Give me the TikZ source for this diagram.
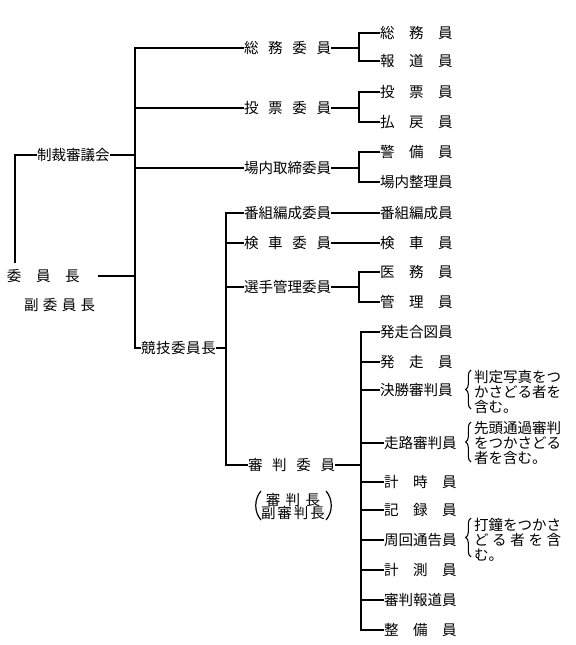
\documentclass[tikz,border=0pt]{standalone}
\usepackage{fontspec}
\setmainfont{Noto Sans CJK JP}
\usetikzlibrary{decorations.pathreplacing}
\newcommand{\spread}[2]{\makebox[#1][s]{#2}}
\begin{document}
\begin{tikzpicture}[x=0.75pt,y=-0.75pt,
  every node/.style={inner sep=0pt,outer sep=0pt,font=\fontsize{10.9pt}{11.3pt}\selectfont},
  lbl/.style={anchor=west},
  conn/.style={line width=1.5pt},
  note/.style={anchor=west,align=left,font=\fontsize{10.9pt}{11.25pt}\selectfont},
  bracestyle/.style={line width=0.8pt,decorate,decoration={brace,amplitude=4pt}},
  paren/.style={line width=0.9pt}]
\useasboundingbox (0,0) rectangle (575,645);
\fill[white] (0,0) rectangle (575,645);

% left column
\node[lbl] (seisai) at (37,155) {\spread{5em}{制\hfill 裁\hfill 審\hfill 議\hfill 会}};
\node[lbl] (iin) at (7,276) {\spread{5em}{委\hfill 員\hfill 長}};
\node[lbl] (fuku) at (24,305) {\spread{4.9em}{副\hfill 委\hfill 員\hfill 長}};
\coordinate (iinR) at (98,276);
\coordinate (lowL) at (15,263);
\coordinate (T1) at (135,0);
\coordinate (T2) at (226,0);
\coordinate (S) at (359,0);
\coordinate (T3) at (361,0);

% committees
\node[lbl] (soumu) at (244,48) {\spread{6em}{総\hfill 務\hfill 委\hfill 員}};
\node[lbl] (touhyou) at (244,108) {\spread{6em}{投\hfill 票\hfill 委\hfill 員}};
\node[lbl] (jounai) at (244,168) {\spread{6em}{場\hfill 内\hfill 取\hfill 締\hfill 委\hfill 員}};
\node[lbl] (bangumi) at (244,213) {\spread{6em}{番\hfill 組\hfill 編\hfill 成\hfill 委\hfill 員}};
\node[lbl] (kensha) at (244,243) {\spread{6em}{検\hfill 車\hfill 委\hfill 員}};
\node[lbl] (senshu) at (244,287) {\spread{6em}{選\hfill 手\hfill 管\hfill 理\hfill 委\hfill 員}};
\node[lbl] (kyougi) at (141,348) {\spread{5.15em}{競\hfill 技\hfill 委\hfill 員\hfill 長}};
\node[lbl] (shinpan) at (248,465) {\spread{6em}{審\hfill 判\hfill 委\hfill 員}};
\node (hanchou) at (293,500) {\spread{3.75em}{審\hfill 判\hfill 長}};
\node (fukuhanchou) at (293,512.5) {\spread{4.4em}{副\hfill 審\hfill 判\hfill 長}};

% members
\node[lbl] (m1) at (380,33) {\spread{5em}{総\hfill 務\hfill 員}};
\node[lbl] (m2) at (380,61) {\spread{5em}{報\hfill 道\hfill 員}};
\node[lbl] (m3) at (380,92) {\spread{5em}{投\hfill 票\hfill 員}};
\node[lbl] (m4) at (380,122) {\spread{5em}{払\hfill 戻\hfill 員}};
\node[lbl] (m5) at (380,152) {\spread{5em}{警\hfill 備\hfill 員}};
\node[lbl] (m6) at (380,182) {\spread{5em}{場\hfill 内\hfill 整\hfill 理\hfill 員}};
\node[lbl] (m7) at (380,213) {\spread{5em}{番\hfill 組\hfill 編\hfill 成\hfill 員}};
\node[lbl] (m8) at (380,243) {\spread{5em}{検\hfill 車\hfill 員}};
\node[lbl] (m9) at (380,272) {\spread{5em}{医\hfill 務\hfill 員}};
\node[lbl] (m10) at (380,302) {\spread{5em}{管\hfill 理\hfill 員}};

% referee members
\node[lbl] (r1) at (380,332) {\spread{5em}{発\hfill 走\hfill 合\hfill 図\hfill 員}};
\node[lbl] (r2) at (380,362) {\spread{5em}{発\hfill 走\hfill 員}};
\node[lbl] (r3) at (380,390) {\spread{5em}{決\hfill 勝\hfill 審\hfill 判\hfill 員}};
\node[lbl] (r4) at (384,443) {\spread{5em}{走\hfill 路\hfill 審\hfill 判\hfill 員}};
\node[lbl] (r5) at (384,482) {\spread{5em}{計\hfill 時\hfill 員}};
\node[lbl] (r6) at (384,510) {\spread{5em}{記\hfill 録\hfill 員}};
\node[lbl] (r7) at (384,540) {\spread{5em}{周\hfill 回\hfill 通\hfill 告\hfill 員}};
\node[lbl] (r8) at (384,570) {\spread{5em}{計\hfill 測\hfill 員}};
\node[lbl] (r9) at (384,600) {\spread{5em}{審\hfill 判\hfill 報\hfill 道\hfill 員}};
\node[lbl] (r10) at (384,630) {\spread{5em}{整\hfill 備\hfill 員}};

% notes
\node[note] (n1) at (474,392) {判定写真をつ\\かさどる者を\\含む。};
\node[note] (n2) at (474,443) {先頭通過審判\\をつかさどる\\者を含む。};
\node[note] (n3) at (474,540) {打鐘をつかさ\\\spread{6em}{ど\hfill る\hfill 者\hfill を\hfill 含}\\む。};
\coordinate (b1a) at (471,409); \coordinate (b1b) at (471,370);
\coordinate (b2a) at (471,462); \coordinate (b2b) at (471,422);
\coordinate (b3a) at (471,557); \coordinate (b3b) at (471,518);
\draw[bracestyle] (b1a) -- (b1b);
\draw[bracestyle] (b2a) -- (b2b);
\draw[bracestyle] (b3a) -- (b3b);

% parentheses
\coordinate (pl1) at (261,491); \coordinate (pl2) at (261,520);
\coordinate (pr1) at (326,491); \coordinate (pr2) at (326,520);
\draw[paren] (pl1) .. controls (254,499) and (254,512) .. (pl2);
\draw[paren] (pr1) .. controls (333,499) and (333,512) .. (pr2);

% connectors: left
\draw[conn] (seisai.west) -- (seisai.west -| lowL) -- (lowL);
\draw[conn] (seisai.east) -- (seisai.east -| T1);
\draw[conn] (iinR) -- (iinR -| T1);
% trunk 1
\draw[conn] (soumu.west) -- (soumu.west -| T1) -- (kyougi.west -| T1) -- (kyougi.west);
\draw[conn] (touhyou.west) -- (touhyou.west -| T1);
\draw[conn] (jounai.west) -- (jounai.west -| T1);
% trunk 2
\draw[conn] (bangumi.west) -- (bangumi.west -| T2) -- (shinpan.west -| T2) -- (shinpan.west);
\draw[conn] (kensha.west) -- (kensha.west -| T2);
\draw[conn] (senshu.west) -- (senshu.west -| T2);
\draw[conn] (kyougi.east) -- (kyougi.east -| T2);
% sub branches
\draw[conn] (soumu.east) -- (soumu.east -| S);
\draw[conn] (m1.west) -- (m1.west -| S) -- (m2.west -| S) -- (m2.west);
\draw[conn] (touhyou.east) -- (touhyou.east -| S);
\draw[conn] (m3.west) -- (m3.west -| S) -- (m4.west -| S) -- (m4.west);
\draw[conn] (jounai.east) -- (jounai.east -| S);
\draw[conn] (m5.west) -- (m5.west -| S) -- (m6.west -| S) -- (m6.west);
\draw[conn] (bangumi.east) -- (m7.west);
\draw[conn] (kensha.east) -- (m8.west);
\draw[conn] (senshu.east) -- (senshu.east -| S);
\draw[conn] (m9.west) -- (m9.west -| S) -- (m10.west -| S) -- (m10.west);
% trunk 3
\draw[conn] (shinpan.east) -- (shinpan.east -| T3);
\draw[conn] (r1.west) -- (r1.west -| T3) -- (r10.west -| T3) -- (r10.west);
\foreach \r in {r2,r3,r4,r5,r6,r7,r8,r9}
  \draw[conn] (\r.west) -- (\r.west -| T3);
\end{tikzpicture}
\end{document}
